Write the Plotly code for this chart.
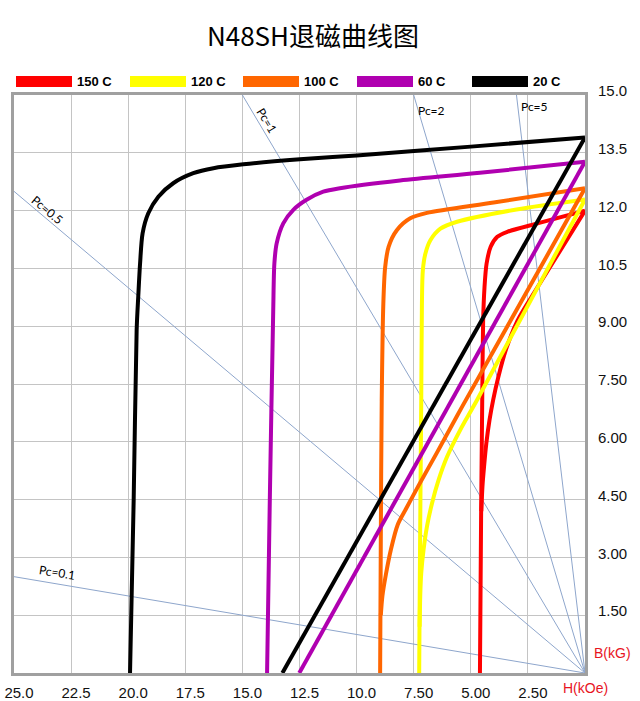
import plotly.graph_objects as go

# ---------------- data ----------------
temps = ["150 C", "120 C", "100 C", "60 C", "20 C"]
colors = ["#ff0000", "#ffff00", "#ff6600", "#b000b0", "#000000"]

# intrinsic (J) curves: H in kOe, J in kG
j150_h = [0, 2.0, 3.4, 3.84, 4.13, 4.31, 4.40, 4.46, 4.50, 4.55, 4.60]
j150_b = [12.0, 11.68, 11.45, 11.32, 11.06, 10.62, 10.01, 9.14, 7.06, 4.0, 0]
j120_h = [0, 3.0, 5.6, 6.33, 6.77, 6.99, 7.10, 7.14, 7.17, 7.22, 7.26]
j120_b = [12.29, 12.03, 11.71, 11.53, 11.23, 10.88, 10.45, 9.58, 7.06, 3.5, 0]
j100_h = [0, 4.0, 6.92, 7.65, 8.24, 8.60, 8.75, 8.83, 8.90, 8.94, 8.97]
j100_b = [12.58, 12.21, 11.94, 11.80, 11.49, 11.06, 10.53, 9.58, 7.06, 3.5, 0]
j60_h = [0, 4.6, 8.1, 10.73, 11.46, 12.19, 12.77, 13.21, 13.50, 13.60, 13.65, 13.80, 13.92]
j60_b = [13.27, 12.98, 12.78, 12.58, 12.49, 12.28, 12.02, 11.67, 11.15, 10.63, 9.42, 4.5, 0]
j20_h = [0, 5.0, 10.0, 12.48, 14.96, 16.27, 17.15, 18.03, 18.68, 19.12, 19.37, 19.48, 19.56, 19.63, 19.76, 19.92]
j20_b = [13.9, 13.66, 13.43, 13.33, 13.20, 13.10, 12.97, 12.71, 12.36, 11.93, 11.41, 10.63, 9.77, 8.90, 4.5, 0]

# normal (B) curves
b150_h = [0, 2.08, 2.96, 3.48, 3.80, 4.02, 4.18, 4.32, 4.42, 4.49, 4.54]
b150_b = [12.0, 10.01, 9.14, 8.36, 7.67, 7.09, 6.57, 5.96, 5.35, 4.84, 4.2]
b120_h = [0, 4.72, 5.46, 6.04, 6.41, 6.70, 6.92, 7.07, 7.17, 7.21, 7.24]
b120_b = [12.29, 7.09, 6.31, 5.61, 5.01, 4.40, 3.80, 3.19, 2.59, 2.07, 1.2]
b100_h = [0, 5.39, 6.50, 7.30, 7.80, 8.20, 8.50, 8.72, 8.87, 8.94]
b100_b = [12.58, 6.90, 5.70, 4.85, 4.30, 3.85, 3.20, 2.55, 2.00, 1.50]
b60_h = [0, 12.51]
b60_b = [13.27, 0]
b20_h = [0, 13.25]
b20_b = [13.9, 0]

# permeance coefficient load lines
pc_values = [0.1, 0.5, 1, 2, 5]
pc_labels = ["Pc=0.1", "Pc=0.5", "Pc=1", "Pc=2", "Pc=5"]

x_ticks = [25.0, 22.5, 20.0, 17.5, 15.0, 12.5, 10.0, 7.5, 5.0, 2.5]
x_ticktext = ["25.0", "22.5", "20.0", "17.5", "15.0", "12.5", "10.0", "7.50", "5.00", "2.50"]
y_ticks = [1.5, 3.0, 4.5, 6.0, 7.5, 9.0, 10.5, 12.0, 13.5, 15.0]
y_ticktext = ["1.50", "3.00", "4.50", "6.00", "7.50", "9.00", "10.5", "12.0", "13.5", "15.0"]

title = "N48SH退磁曲线图"

# ---------------- figure ----------------
X_MAX, Y_MAX = 25, 15
W, H = 640, 701
fig = go.Figure()

for pc in pc_values:
    h_end = min(X_MAX, Y_MAX / pc)
    fig.add_trace(go.Scatter(x=[0, h_end], y=[0, pc * h_end], mode="lines",
                             line=dict(color="#8ea6cc", width=1), showlegend=False,
                             hoverinfo="skip"))

j_sets = [(j150_h, j150_b), (j120_h, j120_b), (j100_h, j100_b), (j60_h, j60_b), (j20_h, j20_b)]
b_sets = [(b150_h, b150_b), (b120_h, b120_b), (b100_h, b100_b), (b60_h, b60_b), (b20_h, b20_b)]

for (jh, jb), (bh, bb), c, t in zip(j_sets, b_sets, colors, temps):
    fig.add_trace(go.Scatter(x=jh, y=jb, mode="lines", name=t,
                             line=dict(color=c, width=4, shape="spline", smoothing=0.8),
                             showlegend=False))
    fig.add_trace(go.Scatter(x=bh, y=bb, mode="lines", name=t,
                             line=dict(color=c, width=4, shape="spline", smoothing=0.8),
                             showlegend=False))

# plot area in screen pixels: x 14..585, y 95..673
L, R, T, B = 14, 585, 95, 673
def px2x(px):
    return (px - L) / (R - L)
def py2y(py):
    return (B - py) / (B - T)

shapes = []
annotations = []
leg_x = [16, 130, 243, 357, 472]
for lx, c, t in zip(leg_x, colors, temps):
    shapes.append(dict(type="rect", xref="paper", yref="paper",
                       x0=px2x(lx), x1=px2x(lx + 56), y0=py2y(87), y1=py2y(76),
                       fillcolor=c, line=dict(width=0)))
    annotations.append(dict(text="<b>" + t + "</b>", xref="paper", yref="paper", x=px2x(lx + 59),
                            y=py2y(81.5), xanchor="left", yanchor="middle", showarrow=False,
                            font=dict(family="Liberation Sans", size=13, color="#000"),
                            ))

# Pc labels (positions in data units, angles in degrees)
pc_pos = [(23.1, 2.62, 9), (23.57, 12.02, 40), (13.92, 14.35, 59), (6.74, 14.59, 0), (2.23, 14.69, 0)]
for lab, (hx, by, ang) in zip(pc_labels, pc_pos):
    annotations.append(dict(text=lab, x=hx, y=by, xref="x", yref="y", showarrow=False,
                            textangle=ang, font=dict(family="Lato", size=12, color="#000")))

annotations.append(dict(text="H(kOe)", x=0, y=py2y(688), xref="x", yref="paper",
                        showarrow=False, xanchor="center", yanchor="middle",
                        font=dict(family="Liberation Sans", size=14, color="#e8141e")))
annotations.append(dict(text="B(kG)", x=px2x(612), y=0.52, xref="paper", yref="y",
                        showarrow=False, xanchor="center", yanchor="middle",
                        font=dict(family="Liberation Sans", size=14, color="#e8141e")))

fig.update_layout(
    width=W, height=H,
    margin=dict(l=L, r=W - R, t=T, b=H - B, autoexpand=False),
    paper_bgcolor="white", plot_bgcolor="white",
    title=dict(text=title, x=313 / W, xanchor="center", y=1 - 37 / H,
               yanchor="middle",
               font=dict(family="Noto Sans CJK SC", size=26, color="#000")),
    shapes=shapes, annotations=annotations,
    showlegend=False,
    xaxis=dict(range=[X_MAX, 0], tickvals=x_ticks, ticktext=x_ticktext, automargin=False,
               showgrid=True, gridcolor="#c4c4c4", gridwidth=1, zeroline=False,
               showline=True, mirror=True, linecolor="#a0a0a0", linewidth=3,
               ticks="", ticklabelstandoff=4, ticklabelshift=-5, ticklabeloverflow="allow",
               tickfont=dict(family="Liberation Sans", size=15, color="#111")),
    yaxis=dict(range=[0, Y_MAX], side="right", tickvals=y_ticks, ticktext=y_ticktext, automargin=False,
               showgrid=True, gridcolor="#c4c4c4", gridwidth=1, zeroline=False,
               showline=True, mirror=True, linecolor="#a0a0a0", linewidth=3,
               ticks="", ticklabelstandoff=7, ticklabelshift=-4, ticklabeloverflow="allow",
               tickfont=dict(family="Liberation Sans", size=15, color="#111")),
)

fig.write_html("out.html", config={"displayModeBar": False},
               post_script="document.body.style.margin='0px';")
